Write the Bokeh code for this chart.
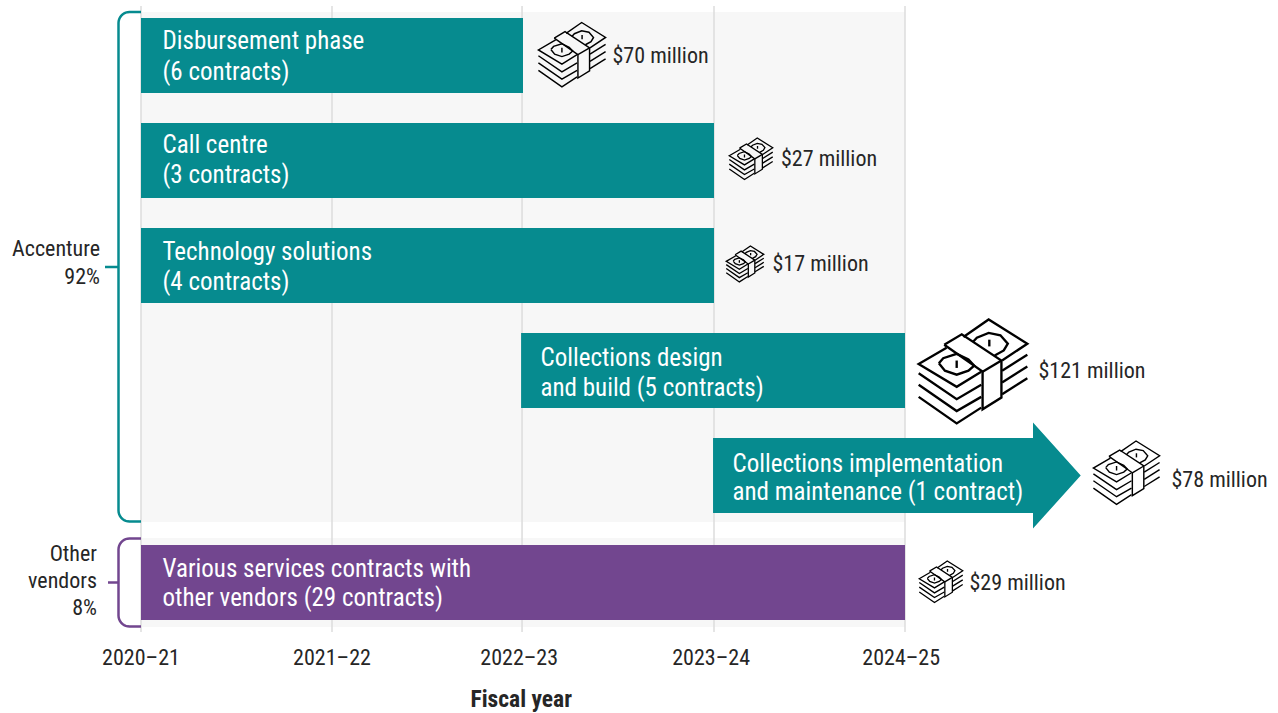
import numpy as np
from bokeh.plotting import figure
from bokeh.models import Range1d, LinearAxis, FixedTicker, Title
from bokeh.core.properties import value
from bokeh.embed import file_html
from bokeh.resources import INLINE

# Contract groups, one per row from top to bottom
phase_lines = [
    ["Disbursement phase", "(6 contracts)"],
    ["Call centre", "(3 contracts)"],
    ["Technology solutions", "(4 contracts)"],
    ["Collections design", "and build (5 contracts)"],
    ["Collections implementation", "and maintenance (1 contract)"],
    ["Various services contracts with", "other vendors (29 contracts)"],
]
amounts = [70, 27, 17, 121, 78, 29]
amount_labels = ["$70 million", "$27 million", "$17 million", "$121 million", "$78 million", "$29 million"]
start_year = [0, 0, 0, 1.99, 2.995, 0]
end_year = [2, 3, 3, 4, 4.92, 4]
fiscal_years = ["2020–21", "2021–22", "2022–23", "2023–24", "2024–25"]

FONT = value("Roboto Condensed")
TEAL = "#068b8f"
PURPLE = "#72468f"
INK = "#262626"

# Scale: pixels of canvas per fiscal year and per row
X0, PX_YEAR = 141.0, 191.0
Y0, PX_ROW = 55.5, 105.0
FRAME_H = 640


def xd(px):
    return (np.asarray(px, dtype=float) - X0) / PX_YEAR


def yd(px):
    return (np.asarray(px, dtype=float) - Y0) / PX_ROW


p = figure(width=1278, height=713, frame_height=FRAME_H, output_backend="svg", toolbar_location=None,
           x_range=Range1d(float(xd(0.5)), float(xd(1278.5))),
           y_range=Range1d(float(yd(FRAME_H + 0.5)), float(yd(0.5))),
           min_border_left=0, min_border_right=0, min_border_top=0, min_border_bottom=0,
           x_axis_type=None, y_axis_type=None, outline_line_color=None,
           background_fill_color="white", border_fill_color="white")

# Tick labels sit slightly left of their grid lines from the third year onward
tick_pos = [0, 1, 1.98, 2.985, 3.98]
axis = LinearAxis(ticker=FixedTicker(ticks=tick_pos),
                  major_label_overrides=dict(zip(tick_pos, fiscal_years)),
                  axis_line_color=None, major_tick_line_color=None, minor_tick_line_color=None,
                  major_label_text_font="Roboto Condensed", major_label_text_font_size="22px",
                  major_label_text_color=INK, major_label_standoff=-2)
p.add_layout(axis, "below")

# Axis title, placed under the year span
p.add_layout(Title(text="Fiscal year", text_font="Roboto Condensed", text_font_size="23.5px",
                   text_font_style="bold", text_color=INK, align="left", offset=470,
                   standoff=20), "below")

# Pale panels behind each vendor group
for top, bottom in [(12, 522), (538, 627)]:
    p.quad(left=0, right=4, top=float(yd(top)), bottom=float(yd(bottom)),
           fill_color="#f7f7f7", line_color=None)

# Year grid lines
ticks = np.array([0, 1, 1.995, 3, 4])
p.segment(ticks, np.full(5, float(yd(6))), ticks, np.full(5, float(yd(632))),
          line_color="#dcdcdc", line_width=1.5)

# Contract bars; row 5 sits slightly lower than the regular step
row_y = np.array([0, 1, 2, 3, 4, 5.0190])
half_h = 37.5 / PX_ROW
colors = [TEAL] * 5 + [PURPLE]
for i in [0, 1, 2, 3, 5]:
    p.quad(left=start_year[i], right=end_year[i], top=row_y[i] - half_h, bottom=row_y[i] + half_h,
           fill_color=colors[i], line_color=None)

# Open-ended contract drawn as an arrow
neck = float(xd(1033))
head_h = 53 / PX_ROW
ay = row_y[4]
p.patch([start_year[4], neck, neck, end_year[4], neck, neck, start_year[4]],
        [ay - half_h, ay - half_h, ay - head_h, ay, ay + head_h, ay + half_h, ay + half_h],
        fill_color=TEAL, line_color=None)

# Bar captions
text_x = [163, 163, 163, 541, 733, 163]
caption_y = [[40.5, 71], [144.5, 174.5], [251.5, 281.5], [357, 387], [463, 491], [568, 597]]
for i, lines in enumerate(phase_lines):
    p.text(xd([text_x[i] - 0.5] * 2), yd(caption_y[i]), text=lines, text_font=FONT, text_font_size="25px",
           text_color="white", text_baseline="middle", text_align="left")

# Icon of banded banknotes, outlined on a 327 x 312 drawing
ICON_W = 327.0
icon_paths = [
    [(133, 103), (185, 72), (303, 150), (303, 260), (247, 295), (247, 183), (133, 103)],
    [(247, 183), (303, 150)],
    [(140, 112), (57, 160), (170, 228), (243, 183)],
    [(57, 188), (170, 265), (243, 222)],
    [(57, 222), (170, 300), (243, 258)],
    [(57, 258), (170, 337), (243, 290)],
    [(190, 80), (265, 28), (380, 100), (305, 150)],
    [(305, 180), (380, 133)],
    [(305, 215), (380, 168)],
    [(305, 250), (380, 203)],
    [(218, 95), (230, 82), (265, 68), (300, 75), (322, 100), (310, 120), (283, 135)],
    [(117, 158), (130, 143), (170, 130), (205, 147), (222, 165), (205, 180), (170, 192), (135, 180), (117, 158)],
    [(170, 150), (170, 172)],
    [(267, 88), (267, 108)],
]
icon_left = [538, 729, 726, 918, 1093, 919]
icon_top = [22.5, 138, 246, 319.5, 441, 561]
icon_width = [68, 44, 38, 110, 67, 44]
for i in range(len(amounts)):
    s = icon_width[i] / ICON_W
    xs = [xd([icon_left[i] + (px - 55) * s for px, _ in path]) for path in icon_paths]
    ys = [yd([icon_top[i] + (py - 28) * s for _, py in path]) for path in icon_paths]
    p.multi_line(xs, ys, line_color="black", line_width=max(1.3, 7.0 * s),
                 line_join="miter", line_cap="butt")

# Amount labels
label_x = [612.5, 781, 772.5, 1038.5, 1171.5, 969.5]
label_y = [55.5, 158.5, 263.5, 370.5, 479.5, 582.5]
p.text(xd(label_x), yd(label_y), text=amount_labels, text_font=FONT, text_font_size="22px",
       text_color=INK, text_baseline="middle", text_align="left")


def bracket(left, right, top, bottom, stub_left, stub_y, color, radius=11):
    """Rounded bracket opening to the right, with a short stub to its label."""
    t = np.linspace(0, np.pi / 2, 10)
    px = [right]
    py = [top]
    px += list(left + radius - radius * np.sin(t))
    py += list(top + radius - radius * np.cos(t))
    px += list(left + radius - radius * np.cos(t))
    py += list(bottom - radius + radius * np.sin(t))
    px.append(right)
    py.append(bottom)
    p.line(xd(px), yd(py), line_color=color, line_width=2.5)
    p.line(xd([stub_left, left]), yd([stub_y, stub_y]), line_color=color, line_width=2.5)


bracket(118.5, 141, 12, 521.5, 105, 267, TEAL)
bracket(118.5, 141, 538.5, 626.5, 108, 582.5, PURPLE)

# Vendor share labels
p.text(xd([100, 100]), yd([248.5, 276.5]), text=["Accenture", "92%"], text_font=FONT, text_font_size="22px",
       text_color=INK, text_baseline="middle", text_align="right")
p.text(xd([97, 97, 97]), yd([553.5, 580.5, 607]), text=["Other", "vendors", "8%"], text_font=FONT,
       text_font_size="22px", text_color=INK, text_baseline="middle", text_align="right")

open("out.html", "w").write(file_html(p, INLINE))
